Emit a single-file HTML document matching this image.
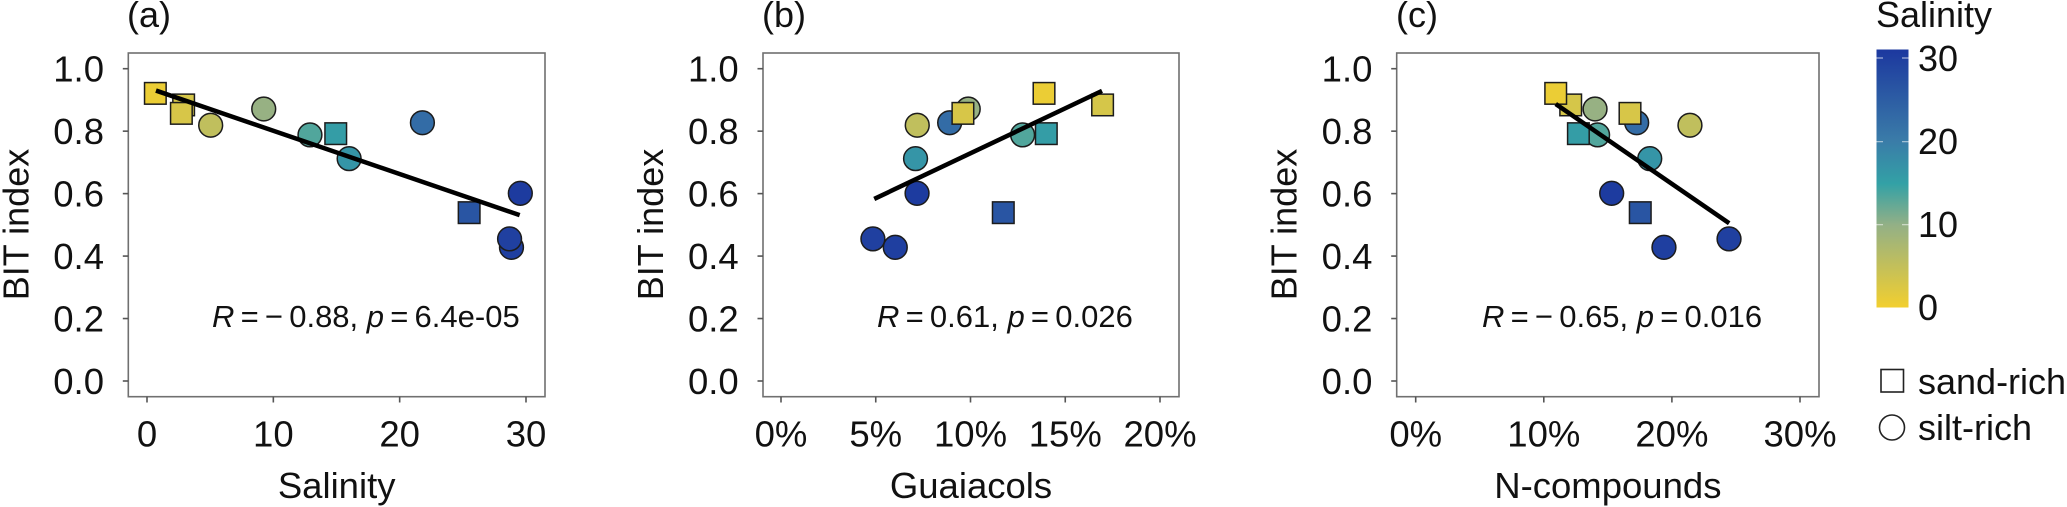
<!DOCTYPE html>
<html lang="en">
<head>
<meta charset="utf-8">
<title>BIT index vs salinity, guaiacols and N-compounds</title>
<style>
html,body{margin:0;padding:0;background:#fff;width:2067px;height:507px;overflow:hidden}
svg{display:block}
text{font-family:"Liberation Sans",sans-serif;fill:#111}
</style>
</head>
<body>
<svg id="chart" xmlns="http://www.w3.org/2000/svg" width="2067" height="507" viewBox="0 0 2067 507">
  <defs>
    <linearGradient id="salinity-gradient" x1="0" y1="1" x2="0" y2="0">
      <stop offset="0" stop-color="#f2cf2f"/>
      <stop offset="0.32" stop-color="#93b086"/>
      <stop offset="0.48" stop-color="#33a1a6"/>
      <stop offset="0.65" stop-color="#3a7ba8"/>
      <stop offset="1" stop-color="#1c389f"/>
    </linearGradient>
  </defs>
  <g>
    <text x="1876" y="27" font-size="36">Salinity</text>
    <rect x="1876.5" y="49.5" width="32" height="258" fill="url(#salinity-gradient)"/>
    <g stroke="#fff" stroke-opacity="0.6" stroke-width="1.2">
      <path d="M1876.5 58h6.5M1902 58h6.5M1876.5 141.7h6.5M1902 141.7h6.5M1876.5 224.7h6.5M1902 224.7h6.5"/>
    </g>
    <text x="1918" y="71" font-size="36">30</text>
    <text x="1918" y="154" font-size="36">20</text>
    <text x="1918" y="237" font-size="36">10</text>
    <text x="1918" y="320" font-size="36">0</text>
  </g>
  <g>
    <rect x="1881" y="369.5" width="22.5" height="22.5" fill="#fff" stroke="#222" stroke-width="1.6"/>
    <text x="1918" y="394" font-size="36">sand-rich</text>
    <circle cx="1892" cy="427.5" r="12.5" fill="#fff" stroke="#222" stroke-width="1.6"/>
    <text x="1918" y="440" font-size="36">silt-rich</text>
  </g>
</svg>
<script>
// Sample values (same order in every panel)
const bitIndex = [0.921, 0.884, 0.857, 0.819, 0.871, 0.788, 0.792, 0.712, 0.827, 0.539, 0.601, 0.455, 0.428];
const salinity = [0.66, 2.9, 2.72, 5.04, 9.24, 12.9, 14.94, 16.0, 21.8, 25.5, 29.55, 28.7, 28.85];
const guaiacols = [13.88, 16.97, 9.6, 7.19, 9.88, 12.75, 14.0, 7.1, 8.9, 11.73, 7.18, 4.85, 6.03];
const nCompounds = [10.93, 12.1, 16.73, 21.41, 14.0, 14.2, 12.7, 18.27, 17.25, 17.53, 15.3, 24.46, 19.38];
const textures = ['sand', 'sand', 'sand', 'silt', 'silt', 'silt', 'sand', 'silt', 'silt', 'sand', 'silt', 'silt', 'silt'];

// Fitted line end points, in data units
const fitXA = [0.71, 29.5];
const fitYA = [0.93, 0.531];
const fitXB = [4.92, 16.94];
const fitYB = [0.583, 0.929];
const fitXC = [10.93, 24.47];
const fitYC = [0.887, 0.505];

// Tick labels
const yTicks = [0, 0.2, 0.4, 0.6, 0.8, 1];
const xTicksA = [0, 10, 20, 30];
const xTicksB = [0, 5, 10, 15, 20];
const xTicksC = [0, 10, 20, 30];

// Printed statistics
const statR = ['\u22120.88', '0.61', '\u22120.65'];
const statP = ['6.4e-05', '0.026', '0.016'];

// Colour scale stops: salinity value and colour
const colorStops = [0, 9.6, 14.4, 19.5, 30];
const colorHexes = ['#f2cf2f', '#93b086', '#33a1a6', '#3a7ba8', '#1c389f'];

// Draw order per panel (index into the sample arrays)
const drawOrderA = [1, 4, 8, 2, 3, 5, 6, 7, 9, 10, 12, 11, 0];
const drawOrderB = [1, 4, 8, 2, 3, 5, 6, 7, 9, 10, 11, 12, 0];
const drawOrderC = [1, 4, 8, 2, 3, 5, 6, 7, 9, 10, 12, 11, 0];

const NS = 'http://www.w3.org/2000/svg';
const svg = document.getElementById('chart');

function make(parent, tag, attrs, text) {
  const el = document.createElementNS(NS, tag);
  for (const k in attrs) el.setAttribute(k, attrs[k]);
  if (text !== undefined) el.textContent = text;
  parent.appendChild(el);
  return el;
}

function hexToRgb(h) {
  return [1, 3, 5].map(function (i) { return parseInt(h.substr(i, 2), 16); });
}

function salinityColor(v) {
  const t = Math.max(colorStops[0], Math.min(colorStops[colorStops.length - 1], v));
  let i = 0;
  while (i < colorStops.length - 2 && t > colorStops[i + 1]) i++;
  const f = (t - colorStops[i]) / (colorStops[i + 1] - colorStops[i]);
  const a = hexToRgb(colorHexes[i]);
  const b = hexToRgb(colorHexes[i + 1]);
  return 'rgb(' + a.map(function (c, k) { return Math.round(c + (b[k] - c) * f); }).join(',') + ')';
}

function yScale(v) {
  return 381 - 312.3 * v;
}

function drawPanel(p) {
  function xScale(v) {
    return p.x0 + (p.x1 - p.x0) * (v - p.d0) / (p.d1 - p.d0);
  }
  const g = make(svg, 'g', {});
  
  

  const frame = make(g, 'rect', { x: p.left, y: 53, width: p.right - p.left, height: 343.7, fill: '#fff', stroke: '#707070', 'stroke-width': 1.6 });
  
  

  yTicks.forEach(function (t) {
    const y = yScale(t);
    const tick = make(g, 'line', { x1: p.left - 5.5, x2: p.left, y1: y, y2: y, stroke: '#555', 'stroke-width': 1.6 });
    
    
    const label = make(g, 'text', { x: p.left - 24.3, y: y + 13, 'font-size': 36.5, 'text-anchor': 'end' }, t.toFixed(1));
    
    
  });

  p.ticks.forEach(function (t) {
    const x = xScale(t);
    const tick = make(g, 'line', { x1: x, x2: x, y1: 396.7, y2: 402.5, stroke: '#555', 'stroke-width': 1.6 });
    
    
    const label = make(g, 'text', { x: x, y: 446.5, 'font-size': 36.5, 'text-anchor': 'middle' }, t + p.suffix);
    
    
  });

  const yTitle = make(g, 'text', { transform: 'translate(' + (p.left - 100) + ',224.5) rotate(-90)', 'font-size': 36, 'text-anchor': 'middle' }, 'BIT index');
  
  

  const xTitle = make(g, 'text', { x: (p.left + p.right) / 2, y: 498, 'font-size': 36.5, 'text-anchor': 'middle' }, p.title);
  
  

  const tag = make(g, 'text', { x: p.tagX, y: 27, 'font-size': 36 }, '(' + p.id + ')');
  
  

  p.order.forEach(function (i) {
    const cx = xScale(p.xs[i]);
    const cy = yScale(bitIndex[i]);
    const fill = salinityColor(salinity[i]);
    let mark;
    if (textures[i] === 'sand') {
      mark = make(g, 'rect', { x: cx - 10.8, y: cy - 10.8, width: 21.6, height: 21.6, fill: fill, stroke: '#1c1c1c', 'stroke-width': 1.5 });
    } else {
      mark = make(g, 'circle', { cx: cx, cy: cy, r: 11.9, fill: fill, stroke: '#1c1c1c', 'stroke-width': 1.5 });
    }
    
    
  });

  const fit = make(g, 'line', {
    x1: xScale(p.fitX[0]), y1: yScale(p.fitY[0]),
    x2: xScale(p.fitX[1]), y2: yScale(p.fitY[1]),
    stroke: '#000', 'stroke-width': 4.5
  });
  
  

  const stat = make(g, 'text', { x: p.statX, y: 327, 'font-size': 31 });
  
  
  make(stat, 'tspan', { 'font-style': 'italic' }, 'R');
  make(stat, 'tspan', {}, '\u2009=\u2009' + p.r.replace('\u2212', '\u2212\u2009') + ', ');
  make(stat, 'tspan', { 'font-style': 'italic' }, 'p');
  make(stat, 'tspan', {}, '\u2009=\u2009' + p.p);
}

drawPanel({ id: 'a', left: 128.3, right: 545, x0: 147, x1: 526, d0: 0, d1: 30, xs: salinity, ticks: xTicksA, suffix: '', title: 'Salinity', tagX: 127, statX: 212, r: statR[0], p: statP[0], fitX: fitXA, fitY: fitYA, order: drawOrderA });
drawPanel({ id: 'b', left: 763, right: 1179, x0: 781, x1: 1160, d0: 0, d1: 20, xs: guaiacols, ticks: xTicksB, suffix: '%', title: 'Guaiacols', tagX: 762, statX: 877, r: statR[1], p: statP[1], fitX: fitXB, fitY: fitYB, order: drawOrderB });
drawPanel({ id: 'c', left: 1396.7, right: 1819, x0: 1415.7, x1: 1800, d0: 0, d1: 30, xs: nCompounds, ticks: xTicksC, suffix: '%', title: 'N-compounds', tagX: 1396, statX: 1482, r: statR[2], p: statP[2], fitX: fitXC, fitY: fitYC, order: drawOrderC });
</script>
</body>
</html>
